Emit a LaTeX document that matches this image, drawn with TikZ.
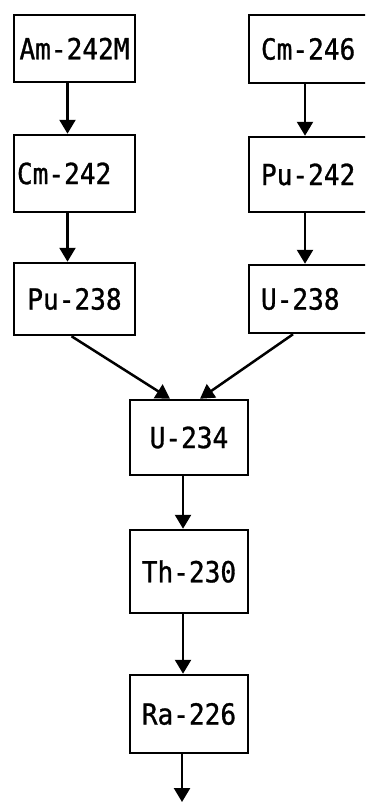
\documentclass[tikz,border=0pt]{standalone}
\usepackage{fontspec}
\newfontfamily\nuclidefont{DejaVu Sans Mono}[FakeStretch=0.9,FakeBold=1]
\usepackage{tikz}
\usetikzlibrary{arrows.meta}

\begin{document}
\begin{tikzpicture}[x=1pt,y=-1pt,
    nuclide/.style={draw,line width=2.5pt,rectangle,inner sep=0pt,
        font=\nuclidefont\fontsize{29}{29}\selectfont},
    cutbox/.style={nuclide,text width=108pt,inner xsep=12pt,align=left},
    decay/.style={line width=2.5pt,-{Triangle[length=14pt,width=16pt]}}]
    \clip(0,0) rectangle (365,803);
    % left chain
    \node[nuclide,minimum width=121pt,minimum height=67pt] at(74.5,48.5)(am242m){Am-242M};
    \node[cutbox,text width=115pt,inner xsep=3pt,minimum height=77pt] at(74.5,173.5)(cm242){Cm-242};
    \node[nuclide,minimum width=121pt,minimum height=72pt] at(74.5,299)(pu238){Pu-238};
    % right chain, running off the edge
    \node[cutbox,minimum width=132pt,minimum height=68pt] at(315,49)(cm246){Cm-246};
    \node[cutbox,minimum width=132pt,minimum height=75pt] at(315,174.5)(pu242){Pu-242};
    \node[cutbox,minimum width=132pt,minimum height=68pt] at(315,299)(u238){U-238};
    % common chain
    \node[nuclide,minimum width=118pt,minimum height=75pt] at(189,437.5)(u234){U-234};
    \node[nuclide,minimum width=118pt,minimum height=83pt] at(189,571.5)(th230){Th-230};
    \node[nuclide,minimum width=118pt,minimum height=78pt] at(189,714)(ra226){Ra-226};
    \coordinate(sink) at(182,802);
    \foreach\a/\b/\s in{am242m/cm242/-7,cm242/pu238/-7,cm246/pu242/-10,
        pu242/u238/-10,u234/th230/-6,th230/ra226/-6}{
        \draw[decay]([xshift=\s pt]\a.south) -- ([xshift=\s pt]\b.north);
    }
    \draw[decay]([xshift=-3pt]pu238.south) -- ([xshift=-19pt]u234.north);
    \draw[decay]([xshift=-22pt]u238.south) -- ([xshift=11pt]u234.north);
    \draw[decay]([xshift=-7pt]ra226.south) -- (sink);
\end{tikzpicture}
\end{document}
